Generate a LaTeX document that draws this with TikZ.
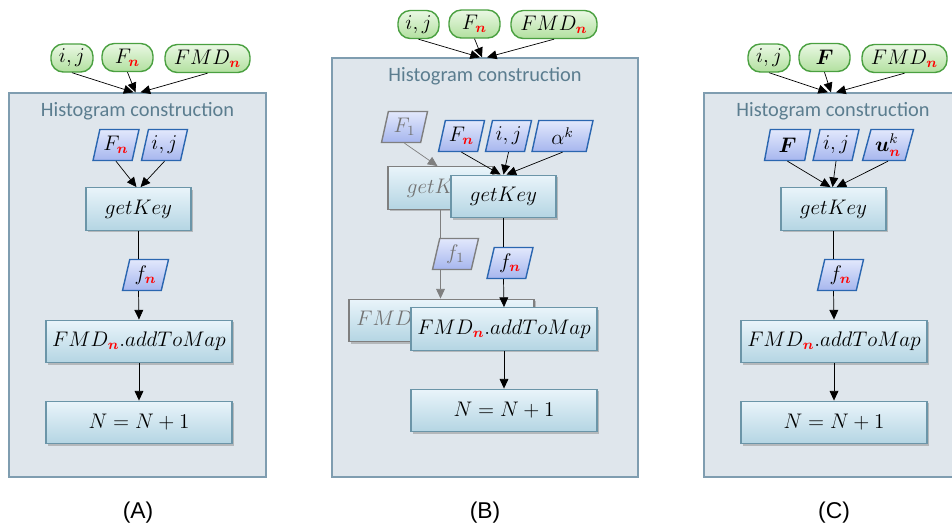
\documentclass[tikz,border=0pt]{standalone}
\usepackage{amsmath,amssymb}
\usepackage[no-math]{fontspec}
\newfontfamily\titlefont{Carlito}
\newfontfamily\capfont{Liberation Sans}
\usepackage{tikz}
\usetikzlibrary{arrows.meta,calc,shapes.geometric,shadows}
\usepackage{xcolor}
\definecolor{panelbg}{HTML}{DFE6EC}
\definecolor{panelbd}{HTML}{7F9DB0}
\definecolor{titlecol}{HTML}{5B7D8F}
\definecolor{proctop}{HTML}{E9F4FA}
\definecolor{procbot}{HTML}{B4D5E3}
\definecolor{procbd}{HTML}{6B95A8}
\definecolor{greentop}{HTML}{EAF8E4}
\definecolor{greenbot}{HTML}{B2E09F}
\definecolor{greenbd}{HTML}{4AA040}
\definecolor{paratop}{HTML}{E2E8FC}
\definecolor{parabot}{HTML}{A6B6EE}
\definecolor{parabd}{HTML}{2A66B0}
\definecolor{ghostbd}{HTML}{7F7F7F}
\newcommand{\rn}{\textcolor{red}{\boldsymbol{n}}}

\begin{document}
\begin{tikzpicture}[x=0.02cm,y=-0.02cm,
  >={Triangle[length=5.5pt,width=5pt]},
  every node/.style={font=\fontsize{12}{14}\selectfont},
  panel/.style={draw=panelbd, fill=panelbg, line width=0.8pt,
    drop shadow={shadow xshift=0.6pt, shadow yshift=-0.8pt, opacity=0.5}},
  ptitle/.style={text=titlecol, font=\titlefont\fontsize{11.6}{13}\selectfont},
  inoval/.style={draw=greenbd, top color=greentop, bottom color=greenbot,
    line width=0.8pt, rounded corners=7pt, minimum height=0.56cm, inner sep=1pt},
  para/.style={trapezium, trapezium left angle=72, trapezium right angle=108,
    trapezium stretches body, draw=parabd, line width=0.8pt,
    top color=paratop, bottom color=parabot,
    minimum width=0.92cm, minimum height=0.62cm, inner sep=1pt},
  proc/.style={draw=procbd, line width=0.8pt, top color=proctop, bottom color=procbot,
    minimum height=0.85cm,
    drop shadow={shadow xshift=1pt, shadow yshift=-1pt, opacity=0.45}},
  ghost/.style={draw=ghostbd, text=black!55},
  capt/.style={font=\capfont\fontsize{13}{15}\selectfont}]
  \useasboundingbox (0,0) rectangle (952,529);

  % ---- (A)
  \node[panel, minimum width=5.14cm, minimum height=7.68cm] (panA) at (137.5,285) {};
  \node[ptitle] (titA) at ($(panA.north)+(0,19)$) {Histogram construction};
  \node[inoval, minimum width=0.84cm] (ijA) at (72,58) {$i,j$};
  \node[inoval, minimum width=1.02cm] (FA) at (127.5,57.5) {$F_{\rn}$};
  \node[inoval, minimum width=1.7cm] (FMDA) at (207.5,58.5) {$FMD_{\rn}$};
  \node[para] (pFA) at (116,145) {$F_{\rn}$};
  \node[para] (pijA) at (164.5,145) {$i,j$};
  \node[proc, minimum width=2.1cm] (gkA) at (138.5,209) {$getKey$};
  \node[para] (fnA) at (145.5,275) {$f_{\rn}$};
  \node[proc, minimum width=3.72cm] (addA) at (139,341.5) {$FMD_{\rn}.addToMap$};
  \node[proc, minimum width=3.72cm] (incA) at (139,422.5) {$N=N+1$};
  \node[capt] (labA) at (138,513) {(A)};
  \foreach \src/\dx in {ijA/-4, FA/-2, FMDA/3}
    \draw[->] (\src.south) -- ($(panA.north)+(\dx,0)$);
  \draw[->] (pFA.south) -- ($(gkA.north)+(-2,0)$);
  \draw[->] (pijA.south) -- ($(gkA.north)+(2,0)$);
  \draw (gkA.south) -- (gkA.south |- fnA.north);
  \draw[->] (gkA.south |- fnA.south) -- (addA.north);
  \draw[->] (addA) -- (incA);

  % ---- (B), ghost copy behind
  \node[panel, minimum width=6.12cm, minimum height=8.38cm] (panB) at (485,267.5) {};
  \node[ptitle] (titB) at ($(panB.north)+(0,19)$) {Histogram construction};
  \node[inoval, minimum width=0.82cm] (ijB) at (418.5,24.5) {$i,j$};
  \node[inoval, minimum width=1.02cm] (FB) at (474.5,24) {$F_{\rn}$};
  \node[inoval, minimum width=1.72cm] (FMDB) at (554,24.5) {$FMD_{\rn}$};
  \node[para, ghost] (pF1) at (404.5,127) {$F_1$};
  \node[proc, ghost, minimum width=2.1cm] (gk1) at (440.5,188) {$getKey$};
  \node[para, ghost] (f1) at (455.5,254) {$f_1$};
  \node[proc, ghost, minimum width=3.7cm] (add1) at (441.5,320.5) {$FMD_1.addToMap$};
  \draw[->, ghostbd] (pF1.south) -- ($(gk1.north)+(-3,0)$);
  \draw[ghostbd] (gk1.south) -- (gk1.south |- f1.north);
  \draw[->, ghostbd] (gk1.south |- f1.south) -- (gk1.south |- add1.north);
  \node[para] (pFB) at (461.5,136) {$F_{\rn}$};
  \node[para] (pijB) at (508.5,136) {$i,j$};
  \node[para, minimum width=1.22cm] (paB) at (562.5,136) {$\alpha^k$};
  \node[proc, minimum width=2.1cm] (gkB) at (503.5,196.5) {$getKey$};
  \node[para] (fnB) at (510,263) {$f_{\rn}$};
  \node[proc, minimum width=3.72cm] (addB) at (504,329) {$FMD_{\rn}.addToMap$};
  \node[proc, minimum width=3.72cm] (incB) at (504,410.5) {$N=N+1$};
  \node[capt] (labB) at (485,513) {(B)};
  \foreach \src/\dx in {ijB/-5, FB/-3, FMDB/2}
    \draw[->] (\src.south) -- ($(panB.north)+(\dx,0)$);
  \draw[->] (pFB.south) -- ($(gkB.north)+(-3,0)$);
  \draw[->] (pijB.south) -- (gkB.north);
  \draw[->] (paB.south) -- ($(gkB.north)+(3,0)$);
  \draw (gkB.south) -- (gkB.south |- fnB.north);
  \draw[->] (gkB.south |- fnB.south) -- (addB.north);
  \draw[->] (addB) -- (incB);

  % ---- (C)
  \node[panel, minimum width=5.16cm, minimum height=7.68cm] (panC) at (833,285) {};
  \node[ptitle] (titC) at ($(panC.north)+(0,19)$) {Histogram construction};
  \node[inoval, minimum width=0.84cm] (ijC) at (769,58) {$i,j$};
  \node[inoval, minimum width=1.02cm] (FC) at (824.5,57.5) {$\boldsymbol{F}$};
  \node[inoval, minimum width=1.7cm] (FMDC) at (904.5,58.5) {$FMD_{\rn}$};
  \node[para] (pFC) at (787.5,145) {$\boldsymbol{F}$};
  \node[para] (pijC) at (836,145) {$i,j$};
  \node[para, minimum width=1.02cm] (puC) at (888,145) {$\boldsymbol{u}_{\rn}^{k}$};
  \node[proc, minimum width=2.1cm] (gkC) at (833.5,209) {$getKey$};
  \node[para] (fnC) at (840.5,275) {$f_{\rn}$};
  \node[proc, minimum width=3.72cm] (addC) at (834,341.5) {$FMD_{\rn}.addToMap$};
  \node[proc, minimum width=3.72cm] (incC) at (834,422.5) {$N=N+1$};
  \node[capt] (labC) at (834,513) {(C)};
  \foreach \src/\dx in {ijC/-5, FC/-2, FMDC/3}
    \draw[->] (\src.south) -- ($(panC.north)+(\dx,0)$);
  \draw[->] (pFC.south) -- ($(gkC.north)+(-3,0)$);
  \draw[->] (pijC.south) -- ($(gkC.north)+(-1,0)$);
  \draw[->] (puC.south) -- ($(gkC.north)+(3,0)$);
  \draw (gkC.south) -- (gkC.south |- fnC.north);
  \draw[->] (gkC.south |- fnC.south) -- (addC.north);
  \draw[->] (addC) -- (incC);
\end{tikzpicture}
\end{document}
